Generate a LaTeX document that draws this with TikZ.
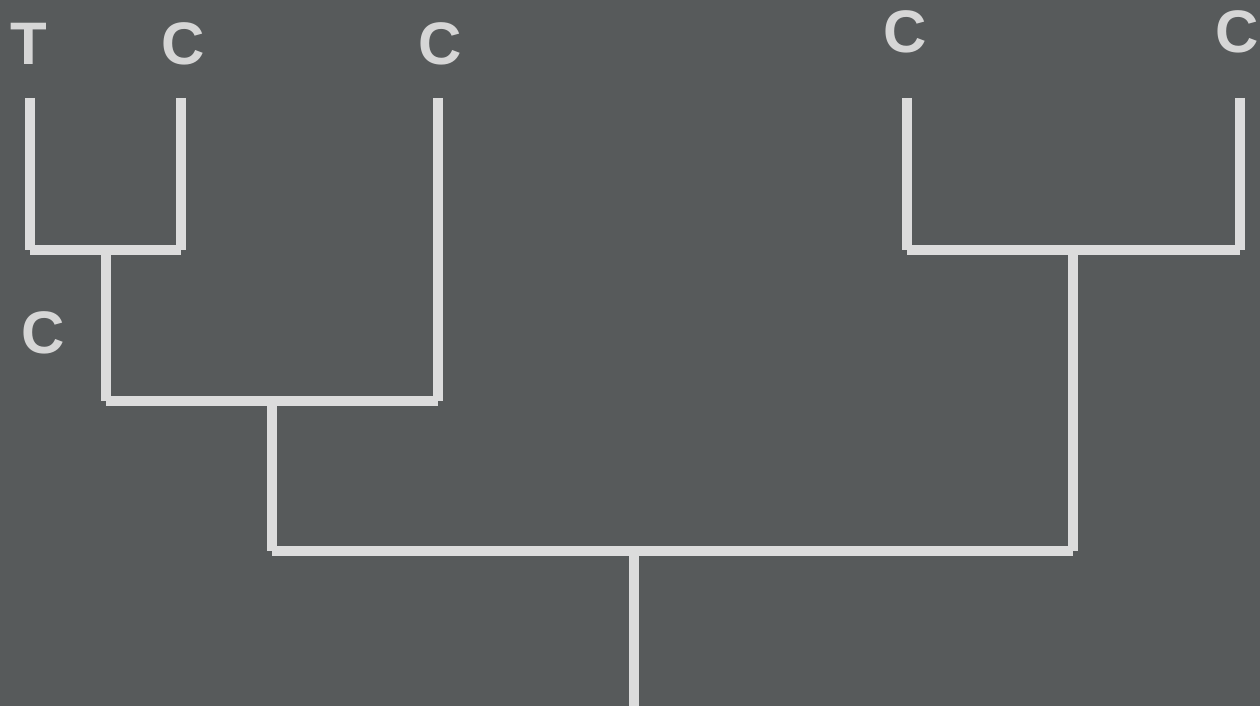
\documentclass[tikz,border=0pt]{standalone}
\usepackage{fontspec}
\setmainfont{Liberation Sans}
\definecolor{bg}{HTML}{575A5B}
\definecolor{ln}{HTML}{DCDCDC}
\definecolor{tx}{HTML}{D6D6D6}
\tikzset{
  br/.style={draw=ln, line width=10pt, line cap=butt},
  lab/.style={text=tx, font=\fontsize{60}{60}\selectfont\bfseries, inner sep=0pt, anchor=center}
}
\begin{document}
\begin{tikzpicture}[x=1pt,y=-1pt]
\fill[bg] (0,0) rectangle (1260,706);
\useasboundingbox (0,0) rectangle (1260,706);
% labels
\node[lab] (lT) at (29,44) {T};
\node[lab] (lC1) at (183,44) {C};
\node[lab] (lC2) at (440,44) {C};
\node[lab] (lC3) at (905,32) {C};
\node[lab] (lC4) at (1237,32) {C};
\node[lab] (lCi) at (43,333) {C};
% coordinates
\coordinate (tT) at (30,98);   \coordinate (bT) at (30,250);
\coordinate (tC1) at (181,98); \coordinate (bC1) at (181,250);
\coordinate (tC2) at (438,98); \coordinate (bC2) at (438,401);
\coordinate (tC3) at (907,98); \coordinate (bC3) at (907,250);
\coordinate (tC4) at (1240,98);\coordinate (bC4) at (1240,250);
\coordinate (n1) at (106,250); \coordinate (n1b) at (106,401);
\coordinate (n2) at (272,401); \coordinate (n2b) at (272,551);
\coordinate (n3) at (1073,250);\coordinate (n3b) at (1073,551);
\coordinate (r) at (634,551);  \coordinate (rb) at (634,706);
% verticals
\draw[br] (tT) -- (bT);
\draw[br] (tC1) -- (bC1);
\draw[br] (tC2) -- (bC2);
\draw[br] (tC3) -- (bC3);
\draw[br] (tC4) -- (bC4);
\draw[br] (n1) -- (n1b);
\draw[br] (n2) -- (n2b);
\draw[br] (n3) -- (n3b);
\draw[br] (r) -- (rb);
% horizontals
\draw[br] (bT) -- (bC1);
\draw[br] (n1b) -- (bC2);
\draw[br] (bC3) -- (bC4);
\draw[br] (n2b) -- (n3b);
\end{tikzpicture}
\end{document}
